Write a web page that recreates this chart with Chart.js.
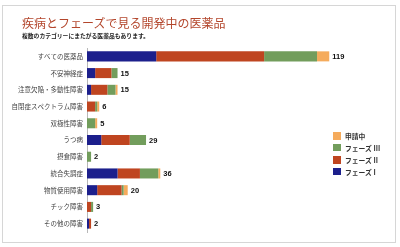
<!DOCTYPE html>
<html><head><meta charset="utf-8">
<script src="https://cdn.jsdelivr.net/npm/chart.js@4"></script>
<style>
html,body{margin:0;padding:0;background:#fff;}
body{width:400px;height:247px;position:relative;overflow:hidden;font-family:"Noto Sans CJK JP","Noto Sans",sans-serif;}
#frame{position:absolute;left:2px;top:5px;width:394px;height:238px;border:1px solid #d6d6d6;box-sizing:border-box;}
#title{position:absolute;left:22px;top:16px;font-size:12px;line-height:14px;color:#b3462c;white-space:nowrap;}
#sub{position:absolute;left:22px;top:31.5px;font-size:5.8px;line-height:7px;font-weight:bold;color:#222;white-space:nowrap;}
#cv{position:absolute;left:0;top:0;}
#legend{position:absolute;left:333px;top:132px;font-size:6.8px;font-weight:bold;color:#333;}
#legend .it{position:absolute;left:0;white-space:nowrap;height:8px;line-height:8px;}
#legend .bx{position:absolute;left:0;top:0;width:7.5px;height:7.5px;}
#legend .tx{position:absolute;left:12px;top:0;}
</style></head>
<body>
<div id="frame"></div>
<canvas id="cv" width="400" height="247"></canvas>
<div id="title">疾病とフェーズで見る開発中の医薬品</div>
<div id="sub">複数のカテゴリーにまたがる医薬品もあります。</div>
<div id="legend"></div>
<script>
const categories = ['すべての医薬品','不安神経症','注意欠陥・多動性障害','自閉症スペクトラム障害','双極性障害','うつ病','摂食障害','統合失調症','物質使用障害','チック障害','その他の障害'];
const phase1 = [34,4,2,0,0,7,0,15,5,0,1];
const phase2 = [53,8,8,4,0,14,0,11,12,2,1];
const phase3 = [26,3,4,1,4,8,2,9,1,1,0];
const filing = [6,0,1,1,1,0,0,1,2,0,0];
const seriesNames = ['フェーズ I','フェーズ II','フェーズ III','申請中'];
const seriesColors = ['#1c1f8c','#bf4520','#729d5c','#f5ab5c'];
const seriesData = [phase1, phase2, phase3, filing];

const datasets = seriesData.map((d,i)=>({label:seriesNames[i],data:d,backgroundColor:seriesColors[i],borderWidth:0,barPercentage:0.6,categoryPercentage:1}));

const totalsPlugin = {
  id:'totals',
  afterDatasetsDraw(chart){
    const ctx = chart.ctx, xs = chart.scales.x, ys = chart.scales.y;
    ctx.save();
    ctx.font = 'bold 7.5px "Liberation Sans", Arial, sans-serif';
    ctx.fillStyle = '#111';
    ctx.textBaseline = 'middle';
    ctx.textAlign = 'left';
    categories.forEach((c,i)=>{
      const t = seriesData.reduce((s,d)=>s+d[i],0);
      ctx.fillText(String(t), xs.getPixelForValue(t)+3, ys.getPixelForValue(i)+0.5);
    });
    ctx.restore();
  }
};

new Chart(document.getElementById('cv'),{
  type:'bar',
  data:{labels:categories,datasets},
  options:{
    indexAxis:'y',
    responsive:false,
    animation:false,
    devicePixelRatio:1,
    layout:{padding:{top:48,bottom:15,left:0,right:28}},
    plugins:{legend:{display:false},tooltip:{enabled:false},title:{display:false}},
    scales:{
      x:{display:false,stacked:true,min:0,max:140},
      y:{stacked:true,
         afterFit(s){s.width=87;},
         grid:{display:false,drawTicks:false},
         border:{display:true,color:'#b8b8b8',width:1},
         ticks:{autoSkip:false,padding:4,color:'#444',font:{family:'"Noto Sans CJK JP"',size:6.5}}
      }
    }
  },
  plugins:[totalsPlugin]
});

const lg = document.getElementById('legend');
const legendOrder = [3,2,1,0];
const legendTops = [0,11.5,24,35.5];
legendOrder.forEach((k,j)=>{
  const it = document.createElement('div');
  it.className='it';
  it.style.top = legendTops[j]+'px';
  it.innerHTML = '<span class="bx" style="background:'+seriesColors[k]+'"></span><span class="tx">'+seriesNames[k]+'</span>';
  lg.appendChild(it);
});
</script>
</body></html>
